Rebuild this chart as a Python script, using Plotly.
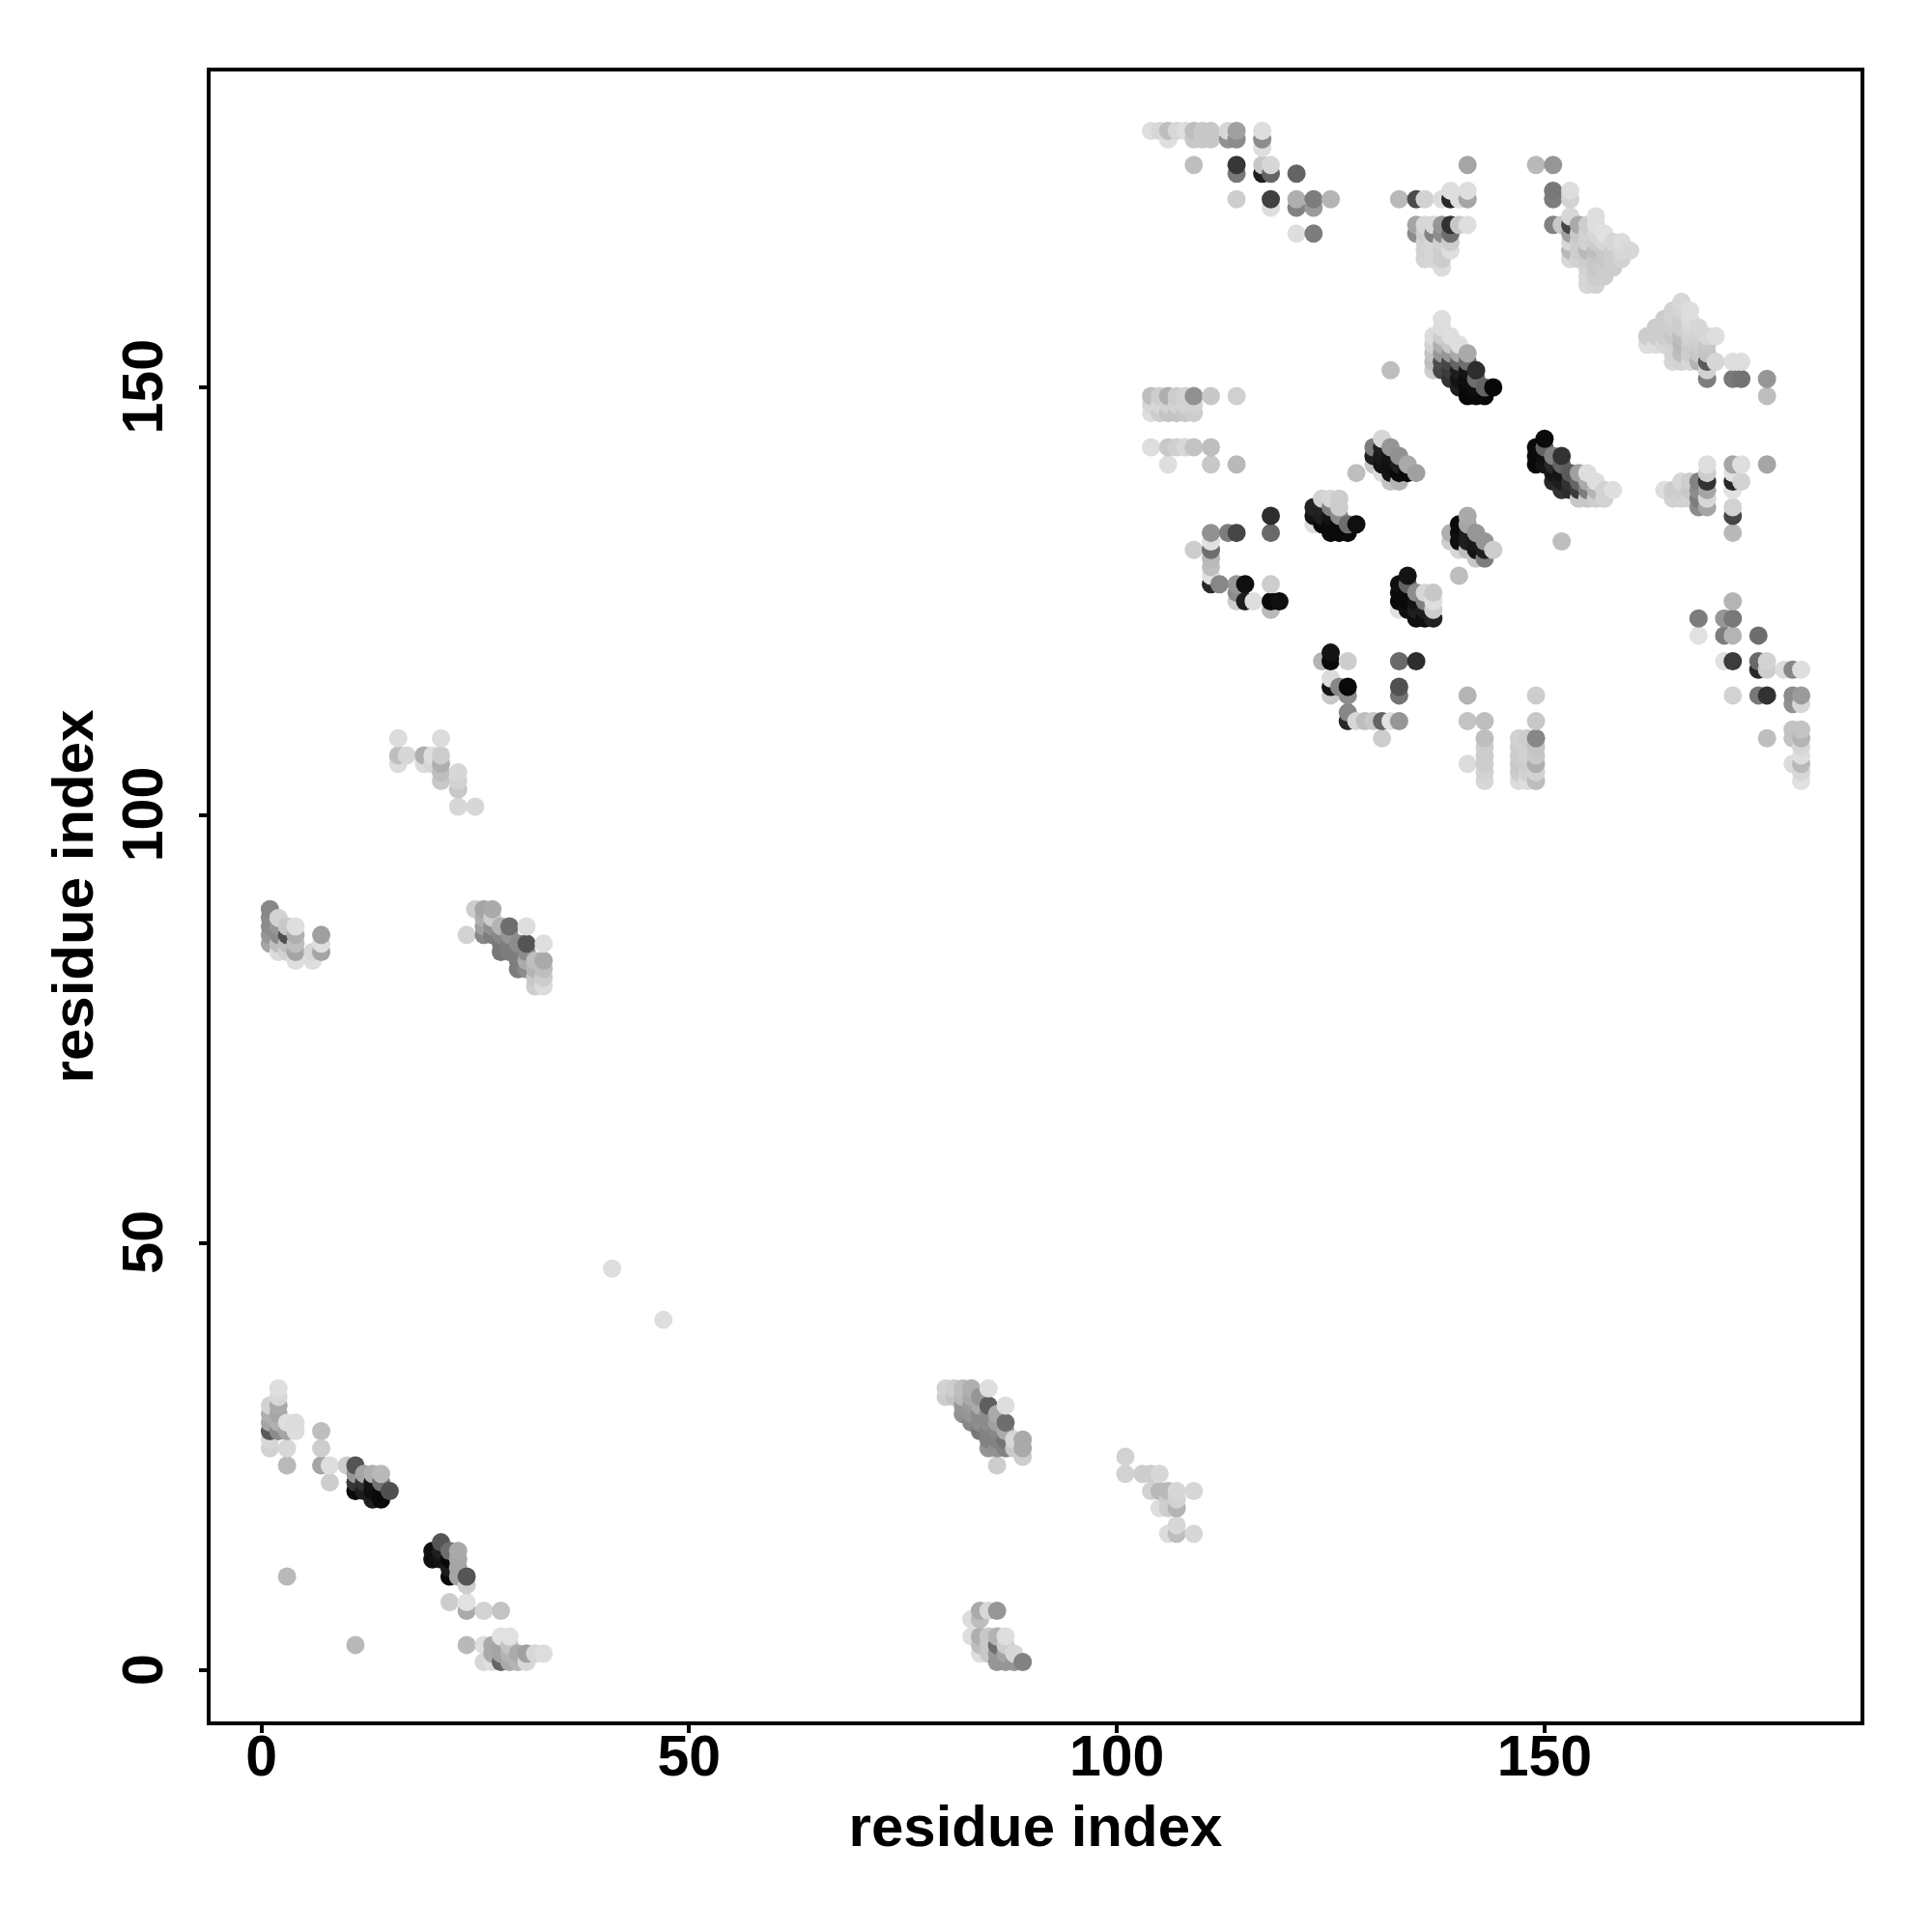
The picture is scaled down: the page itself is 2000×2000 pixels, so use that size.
import plotly.graph_objects as go

# (residue i, residue j, grey level)
top_left = [(104,180,222),(105,180,215),(106,180,190),(107,180,215),(108,180,222),(109,180,190),(110,180,200),(111,180,200),
 (113,180,215),(114,180,160),(117,180,222),(106,179,222),(109,179,200),(110,179,200),(111,179,200),(113,179,145),(114,179,140),(117,179,140),
 (117,178,222),(109,176,190),(114,176,55),(117,176,200),(118,176,215),(114,175,120),(117,175,30),(118,175,100),(121,175,100),
 (114,172,205),(118,172,65),(121,172,175),(123,172,125),(125,172,180),(118,171,222),(121,171,130),(123,171,155),(121,168,222),(123,168,125)]
top_mid = [(141,176,165),(133,172,185),(135,172,75),(136,172,210),(138,172,220),(139,172,40),(140,172,222),(141,172,165),(139,173,222),(141,173,222),
 (135,169,165),(136,169,215),(137,169,215),(138,169,150),(139,169,50),(140,169,200),(141,169,222),
 (135,168,140),(136,168,205),(137,168,130),(138,168,140),(139,168,110),
 (136,167,210),(137,167,215),(138,167,210),(139,167,205),(136,166,210),(137,166,215),(138,166,205),(139,166,222),
 (136,165,212),(137,165,215),(138,165,205),(138,164,220)]
diag_a = [(138,158,222),(137,156,220),(137,155,210),(137,154,195),(137,153,190),(137,152,205),
 (138,157,220),(138,156,205),(138,155,175),(138,154,150),(138,153,75),(138,152,70),
 (139,156,222),(139,155,200),(139,154,150),(139,153,70),(139,152,60),(139,151,50),
 (140,155,222),(140,154,170),(140,153,100),(140,152,30),(140,151,20),(140,150,30),
 (141,154,170),(141,153,110),(141,152,20),(141,151,15),(141,150,10),(141,149,8),
 (142,152,45),(142,151,110),(142,150,15),(142,149,10),(143,150,100),(143,149,10),(144,150,8),(132,152,190)]
left_bars = [(104,149,190),(105,149,205),(106,149,175),(107,149,205),(108,149,210),(109,149,145),(111,149,200),(114,149,208),
 (104,148,215),(105,148,215),(106,148,210),(107,148,210),(108,148,212),(109,148,210),
 (104,147,222),(105,147,205),(106,147,195),(107,147,195),(108,147,200),(109,147,205),
 (104,143,222),(106,143,200),(107,143,208),(108,143,215),(109,143,195),(111,143,190),(106,141,222),(111,141,200),(114,141,185),(128,140,190)]
diag_b = [(131,144,215),(130,143,125),(132,143,150),(130,142,30),(130,141,200),(131,143,30),(131,142,25),(131,141,20),(131,140,220),
 (132,142,20),(132,141,15),(132,140,20),(132,139,195),(133,142,145),(133,141,30),(133,140,10),(133,139,180),(134,141,170),(134,140,10),(135,140,160)]
diag_c = [(124,137,210),(123,136,35),(123,135,20),(123,134,222),(124,136,35),(124,135,30),(124,134,10),(125,137,215),(125,136,130),(125,135,20),(125,134,10),(125,133,10),
 (126,137,205),(126,136,205),(126,135,140),(126,134,10),(126,133,10),(127,134,110),(127,133,10),(128,134,15)]
mid_left = [(111,133,145),(111,132,225),(111,131,110),(111,130,185),(111,129,190),(111,128,225),(111,127,40),(109,131,205),(113,133,125),(114,133,70),(118,135,45),(118,133,105),
 (112,127,135),(114,127,150),(115,127,15),(118,127,205),(114,126,140),(114,125,205),(115,125,30),(116,125,222),(118,125,10),(119,125,15),(118,124,185)]
diag_d = [(134,128,20),(133,127,15),(133,126,10),(133,125,10),(133,124,225),(134,127,100),(134,126,10),(134,125,10),(134,124,15),
 (135,126,140),(135,125,20),(135,124,30),(135,123,15),(136,126,215),(136,125,130),(136,124,30),(136,123,15),(137,126,200),(137,125,222),(137,124,205),(137,123,35)]
diag_e = [(141,135,170),(139,133,175),(139,132,205),(140,134,10),(140,133,15),(140,132,15),(140,131,215),(141,134,165),(141,133,30),(141,132,30),(141,131,190),
 (142,133,150),(142,132,25),(142,131,20),(142,130,200),(143,132,150),(143,131,30),(143,130,125),(144,131,205),(140,128,190)]
lower_mid = [(125,119,20),(125,118,10),(124,118,180),(127,118,205),(133,118,105),(135,118,45),(125,116,220),(125,115,20),(125,114,200),(126,115,135),(127,115,10),(127,114,140),
 (133,115,80),(133,114,115),(127,112,135),(127,111,40),(128,111,215),(129,111,190),(130,111,200),(131,111,100),(132,111,225),(133,111,150),(131,109,205),
 (141,114,180),(141,111,195),(143,111,190),(143,109,190),(143,108,205),(143,107,205),(143,106,205),(143,105,210),(143,104,215),(141,106,220)]
lower_bars = [(149,114,205),(149,111,200),(149,109,135),(149,108,195),(149,107,200),(149,106,175),(149,105,210),(149,104,190),
 (147,109,210),(147,108,205),(147,107,205),(147,106,200),(147,105,205),(147,104,220),(148,109,205),(148,108,210),(148,107,210),(148,106,205),(148,105,210),(148,104,222)]
diag_f = [(150,144,10),(149,143,10),(149,142,10),(149,141,10),(150,143,100),(150,142,15),(150,141,20),(151,142,130),(151,141,40),(151,140,20),(151,139,40),
 (152,142,50),(152,141,100),(152,140,20),(152,139,30),(152,138,50),(153,140,90),(153,139,50),(153,138,45),(154,140,160),(154,139,100),(154,138,60),(154,137,200),
 (155,140,222),(155,139,170),(155,138,125),(155,137,200),(156,139,222),(156,138,180),(156,137,205),(157,138,210),(157,137,210),(158,138,222),(152,132,190)]
right_mid = [(164,138,222),(165,138,205),(166,139,215),(166,138,205),(166,137,210),(165,137,210),(167,139,205),(167,138,200),(167,137,210),
 (168,139,130),(168,138,140),(168,137,125),(168,136,140),(169,141,222),(169,140,205),(169,139,50),(169,138,165),(169,137,215),(169,136,165),
 (172,141,165),(173,141,222),(172,139,40),(173,139,210),(172,140,225),(172,138,225),(172,136,210),(172,135,70),(172,133,185),(176,141,165)]
lower_right = [(172,125,180),(168,123,125),(171,123,150),(172,123,120),(168,121,225),(171,121,125),(172,121,180),(175,121,110),(171,118,225),(172,118,60),(175,118,105),(176,118,210),
 (175,117,40),(176,117,205),(178,117,220),(179,117,135),(180,117,222),(172,114,210),(175,114,120),(176,114,50),(179,114,140),(180,114,155),(179,113,145),(180,113,215),
 (176,109,190),(179,110,195),(180,110,195),(179,109,195),(180,109,180),(180,108,215),(180,107,222),(179,106,220),(180,106,185),(180,105,215),(180,104,225)]
tri_a = [(149,176,185),(151,176,150),(151,173,120),(151,172,125),(153,173,222),(153,172,210),(151,169,130),(152,169,200),(153,170,215),(156,170,222),
 (153,169,70),(154,169,170),(155,169,205),(156,169,222),(153,168,160),(154,168,200),(155,168,210),(156,168,215),(157,168,225),
 (153,167,215),(154,167,205),(155,167,210),(156,167,205),(157,167,215),(158,167,215),(159,167,220),
 (153,166,185),(154,166,205),(155,166,185),(156,166,190),(157,166,200),(158,166,205),(159,166,215),(160,166,215),
 (153,165,215),(154,165,210),(155,165,205),(156,165,200),(157,165,200),(158,165,205),(159,165,210),
 (155,164,210),(156,164,200),(157,164,205),(158,164,205),(155,163,215),(156,163,205),(157,163,205),(155,162,215),(156,162,210)]
tri_b = [(166,160,215),(165,159,210),(166,159,212),(167,159,222),(164,158,205),(165,158,210),(166,158,205),(167,158,220),
 (163,157,205),(164,157,205),(165,157,205),(166,157,205),(167,157,215),(168,157,215),
 (162,156,205),(163,156,205),(164,156,205),(165,156,200),(166,156,190),(167,156,210),(168,156,210),(169,156,215),(170,156,222),
 (162,155,222),(163,155,222),(164,155,215),(165,155,210),(166,155,185),(167,155,205),(168,155,205),(169,155,200),
 (165,154,210),(166,154,190),(167,154,205),(168,154,200),(169,154,195),(165,153,215),(166,153,210),(167,153,215),(168,153,180),(169,153,90),(170,153,215),
 (169,152,210),(169,151,125),(172,153,222),(173,153,222),(172,151,120),(173,151,115),(176,151,150),(176,149,190)]
low_a = [(1,31,210),(1,30,175),(1,29,165),(1,28,90),(1,27,215),(1,26,210),(2,33,222),(2,32,215),(2,31,170),(2,30,165),(2,29,175),(2,28,140),
 (3,29,222),(3,28,165),(3,26,215),(3,24,185),(3,11,185),(4,29,220),(4,28,222),(7,28,190),(7,26,205),(7,24,165),(8,24,222),(8,22,205),(10,24,205),
 (11,24,85),(11,23,150),(11,22,55),(11,21,10),(12,23,165),(12,22,50),(12,21,30),(13,23,175),(13,22,20),(13,21,15),(13,20,30),(14,23,185),(14,22,115),(14,21,10),(14,20,10),(15,21,80)]
low_b = [(20,14,15),(20,13,15),(21,15,85),(21,14,30),(21,13,20),(22,14,110),(22,13,10),(22,12,30),(22,11,10),(23,14,170),(23,13,165),(23,12,165),(23,11,165),
 (24,11,85),(24,10,205),(24,8,225),(24,7,170),(22,8,205),(26,7,210),(28,7,195),(11,3,185),(24,3,185),(26,3,222),(26,1,215),
 (27,3,170),(27,2,170),(27,1,222),(28,4,225),(28,3,165),(28,2,165),(28,1,100),(29,4,225),(29,3,195),(29,2,180),(29,1,170),(30,2,170),(30,1,180),(31,2,160),(31,1,215),(32,2,215),(33,2,222)]
low_c = [(80,33,210),(80,32,205),(81,33,205),(81,32,195),(82,33,190),(82,32,185),(82,31,150),(82,30,145),(83,33,175),(83,32,170),(83,31,155),(83,30,150),(83,29,135),
 (84,32,150),(84,31,170),(84,30,140),(84,29,140),(84,28,120),(85,33,222),(85,31,95),(85,30,140),(85,29,140),(85,28,130),(85,27,130),(85,26,150),
 (86,30,170),(86,29,160),(86,28,135),(86,27,130),(86,26,145),(86,24,205),(87,31,222),(87,29,110),(87,28,170),(87,27,115),(87,26,130),(88,27,215),(88,26,200),(89,27,170),(89,26,170),(89,25,205)]
low_d = [(101,25,210),(101,23,210),(103,23,205),(104,23,205),(105,23,215),(104,21,210),(105,21,185),(106,21,185),(107,21,215),(109,21,215),(106,20,205),(107,20,210),
 (105,19,222),(106,19,205),(107,19,180),(107,17,215),(106,16,220),(107,16,190),(109,16,215)]
low_e = [(84,7,170),(85,7,215),(86,7,150),(83,6,220),(84,6,190),(83,4,222),(84,4,175),(85,4,200),(86,4,180),(87,4,222),(84,3,190),(85,3,200),(86,3,110),(87,3,205),
 (84,2,222),(85,2,200),(86,2,150),(87,2,165),(88,2,215),(86,1,150),(87,1,150),(88,1,150),(89,1,130)]
upper_a = [(16,109,220),(16,107,190),(17,107,215),(16,106,220),(19,107,175),(20,107,222),(19,106,220),(20,106,215),(21,109,220),(21,107,205),(21,106,175),(21,105,190),(21,104,200),
 (23,105,215),(23,104,210),(23,103,200),(23,101,215),(25,101,215)]
upper_b = [(1,89,135),(1,88,140),(1,87,140),(1,86,150),(1,85,165),(2,88,210),(2,87,150),(2,86,140),(2,85,190),(2,84,220),(3,87,200),(3,86,80),(3,85,190),(3,84,210),
 (4,87,222),(4,86,175),(4,85,190),(4,84,165),(4,83,222),(6,84,215),(6,83,222),(7,86,160),(7,85,222),(7,84,165)]
upper_c = [(24,86,210),(25,89,205),(26,89,165),(26,88,175),(26,87,160),(26,86,135),(27,89,170),(27,88,205),(27,87,145),(27,86,125),(28,87,180),(28,86,135),(28,85,120),(28,84,120),
 (29,87,110),(29,86,150),(29,85,125),(29,84,125),(30,85,140),(30,84,125),(30,83,125),(30,82,125),(31,87,222),(31,85,85),(31,84,140),(31,83,170),(31,82,140),
 (32,83,190),(32,82,180),(32,81,200),(32,80,205),(33,85,222),(33,83,170),(33,82,190),(33,81,205),(33,80,220)]
isolated = [(41,47,222),(47,41,222)]

tick_values = [0, 50, 100, 150]
tick_labels = ["0", "50", "100", "150"]
axis_range = [-5.934, 186.934]
axis_title = "residue index"

contacts = sorted(top_left + top_mid + diag_a + left_bars + diag_b + diag_c + mid_left + diag_d + diag_e + lower_mid
                  + lower_bars + diag_f + right_mid + lower_right + tri_a + tri_b + low_a + low_b + low_c + low_d + low_e
                  + upper_a + upper_b + upper_c + isolated, key=lambda c: (c[0], c[1]))

fig = go.Figure(go.Scatter(
    x=[c[0] for c in contacts],
    y=[c[1] for c in contacts],
    mode="markers",
    marker=dict(size=19, color=[f"rgb({c[2]},{c[2]},{c[2]})" for c in contacts], line=dict(width=0)),
    hoverinfo="skip",
))
tick_font = dict(family="Liberation Sans", size=59, color="black", weight=700)
title_font = dict(family="Liberation Sans", size=60, color="black", weight=700)
axis_common = dict(range=axis_range, tickmode="array", tickvals=tick_values, ticktext=tick_labels,
                   showgrid=False, zeroline=False, showline=True, mirror=True, linecolor="black", linewidth=3.5,
                   ticks="outside", ticklen=8, tickwidth=3.5, tickcolor="black", tickfont=tick_font)
fig.update_xaxes(**axis_common, tickangle=0, ticklabelstandoff=-27, title=dict(text=axis_title, font=title_font, standoff=20))
fig.update_yaxes(**axis_common, tickangle=-90, ticklabelstandoff=15, ticklabelshift=8, title=dict(text=axis_title, font=title_font, standoff=0))
fig.update_layout(width=2000, height=2000, margin=dict(l=210, r=82, t=66, b=226, autoexpand=False),
                  plot_bgcolor="white", paper_bgcolor="white", showlegend=False)
fig.write_html("out.html")
